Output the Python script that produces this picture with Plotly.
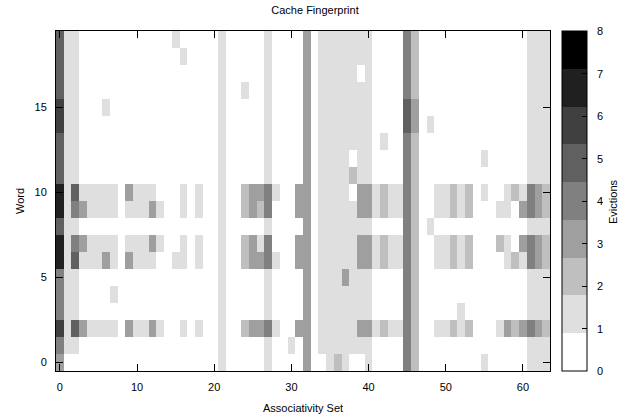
import plotly.graph_objects as go

# ---- data ----
sets = list(range(64))          # associativity set (x)
words = list(range(20))         # word (y)
x_ticks = [0, 10, 20, 30, 40, 50, 60]
y_ticks = [0, 5, 10, 15]
cbar_ticks = [0, 1, 2, 3, 4, 5, 6, 7, 8]

def row(pairs, default=0):
    r = [default] * 64
    for k, v in pairs.items():
        r[k] = v
    return r

# common vertical stripes present in (almost) every word
base = {1: 1, 2: 1, 21: 1, 27: 1, 32: 3, 34: 1, 35: 1, 36: 1, 37: 1, 38: 1,
        39: 1, 40: 1, 45: 4, 46: 2, 61: 1, 62: 1, 63: 1}

word_0 = row({0: 3, 21: 1, 27: 1, 32: 3, 35: 1, 36: 2, 37: 1, 40: 1, 45: 4, 46: 2,
              55: 1, 61: 1, 62: 1, 63: 1})
word_1 = row({**base, 0: 4, 30: 1})
word_2 = row({**base, 0: 6, 2: 5, 3: 3, 4: 1, 5: 1, 6: 1, 7: 1, 9: 3, 10: 1, 11: 1,
              12: 3, 13: 1, 16: 1, 18: 1, 24: 2, 25: 3, 26: 3, 27: 4, 28: 1, 31: 3,
              39: 3, 40: 3, 41: 1, 42: 2, 43: 1, 44: 1, 49: 1, 50: 1, 51: 2, 52: 1,
              53: 2, 57: 1, 58: 3, 59: 2, 60: 3, 61: 4, 62: 3, 63: 2})
word_3 = row({**base, 0: 4, 52: 1})
word_4 = row({**base, 0: 4, 7: 1})
word_5 = row({**base, 0: 4, 37: 3})
word_6 = row({**base, 0: 7, 2: 5, 3: 1, 4: 1, 5: 1, 6: 3, 7: 1, 9: 3, 10: 1, 11: 1,
              12: 1, 15: 1, 16: 1, 18: 1, 24: 2, 25: 3, 26: 3, 27: 4, 28: 1, 31: 3,
              39: 3, 40: 3, 41: 1, 42: 2, 43: 1, 44: 1, 49: 1, 50: 1, 51: 2, 52: 1,
              53: 2, 58: 1, 59: 2, 60: 1, 61: 4, 62: 3, 63: 2})
word_7 = row({**base, 0: 7, 2: 4, 3: 3, 4: 1, 5: 1, 6: 1, 7: 1, 9: 1, 10: 1, 11: 1,
              12: 3, 13: 1, 16: 1, 18: 1, 24: 2, 25: 3, 26: 1, 27: 4, 31: 3,
              39: 3, 40: 3, 41: 1, 42: 2, 43: 1, 44: 1, 49: 1, 50: 1, 51: 2, 52: 1,
              53: 2, 57: 2, 58: 1, 60: 3, 61: 4, 62: 3, 63: 2})
word_8 = row({**base, 0: 5, 48: 1})
word_9 = row({**base, 0: 7, 2: 4, 3: 3, 4: 1, 5: 1, 6: 1, 7: 1, 9: 1, 10: 1, 11: 1,
              12: 3, 13: 1, 16: 1, 18: 1, 24: 2, 25: 3, 26: 2, 27: 4, 31: 3,
              39: 3, 40: 3, 41: 1, 42: 2, 43: 1, 44: 1, 49: 1, 50: 1, 51: 2, 52: 1,
              53: 2, 57: 1, 58: 1, 60: 3, 61: 4, 62: 3, 63: 2})
word_10 = row({**base, 0: 7, 2: 5, 3: 1, 4: 1, 5: 1, 6: 1, 7: 1, 9: 3, 10: 1, 11: 1,
               12: 1, 16: 1, 18: 1, 24: 2, 25: 3, 26: 3, 27: 4, 28: 1, 31: 3, 38: 0,
               39: 3, 40: 3, 41: 1, 42: 2, 43: 1, 44: 1, 49: 1, 50: 1, 51: 2, 52: 1,
               53: 2, 55: 1, 58: 1, 59: 2, 60: 1, 61: 4, 62: 3, 63: 2})
word_11 = row({**base, 0: 5, 38: 2})
word_12 = row({**base, 0: 5, 38: 0, 55: 1})
word_13 = row({**base, 0: 5, 42: 1})
word_14 = row({**base, 0: 6, 45: 5, 46: 3, 48: 1})
word_15 = row({**base, 0: 6, 45: 5, 46: 3, 6: 1})
word_16 = row({**base, 0: 5, 24: 1})
word_17 = row({**base, 0: 5, 39: 0})
word_18 = row({**base, 0: 5, 16: 1})
word_19 = row({**base, 0: 5, 15: 1})

evictions = [word_0, word_1, word_2, word_3, word_4, word_5, word_6, word_7, word_8,
             word_9, word_10, word_11, word_12, word_13, word_14, word_15, word_16,
             word_17, word_18, word_19]

# ---- style ----
grays = ['#ffffff', '#dfdfdf', '#bfbfbf', '#9f9f9f', '#808080',
         '#606060', '#404040', '#202020', '#000000']
colorscale = []
n = len(grays)
for i, c in enumerate(grays):
    colorscale.append([i / n, c])
    colorscale.append([(i + 1) / n, c])

FONT = "Liberation Sans, Arial, sans-serif"
W, H = 630, 420
ML, MR, MT, MB = 56, 80, 31, 49
plot_w = W - ML - MR
plot_h = H - MT - MB
CB_X = (562 - ML) / plot_w


def px_x(px):
    return (px - ML) / plot_w


def px_y(py):
    return (H - MB - py) / plot_h


fig = go.Figure(go.Heatmap(
    x=sets, y=words, z=evictions,
    zmin=0, zmax=8, colorscale=colorscale, xgap=0, ygap=0,
    hoverinfo="skip",
    colorbar=dict(
        thickness=25, thicknessmode="pixels",
        len=1, lenmode="fraction", y=0.5, yanchor="middle",
        x=CB_X, xanchor="left", xpad=0, ypad=0,
        outlinecolor="black", outlinewidth=1,
        tickvals=cbar_ticks, ticks="inside", ticklen=5, tickcolor="black",
        showticklabels=False,
    ),
))

# mirrored ticks on the left edge of the colour box
for v in cbar_ticks[1:-1]:
    fig.add_shape(type="line", xref="paper", yref="paper",
                  x0=CB_X, x1=CB_X + 5 / plot_w, y0=v / 8, y1=v / 8,
                  line=dict(color="black", width=1))

tf = dict(family=FONT, size=11, color="black")
annotations = []
for v in cbar_ticks:
    annotations.append(dict(text=str(v), x=px_x(595), y=v / 8, xref="paper", yref="paper",
                            xanchor="left", yanchor="middle", showarrow=False, font=tf))
annotations.append(dict(text="Evictions", x=px_x(613), y=px_y(202), xref="paper", yref="paper",
                        textangle=-90, xanchor="center", yanchor="middle", showarrow=False, font=tf))
annotations.append(dict(text="Associativity Set", x=0.5, y=px_y(408), xref="paper", yref="paper",
                        xanchor="center", yanchor="middle", showarrow=False, font=tf))
annotations.append(dict(text="Word", x=px_x(20), y=px_y(201), xref="paper", yref="paper",
                        textangle=-90, xanchor="center", yanchor="middle", showarrow=False, font=tf))

axis_common = dict(
    showgrid=False, zeroline=False, showline=True, linecolor="black", linewidth=1,
    mirror="allticks", ticks="inside", ticklen=7, tickcolor="black",
    tickfont=tf, automargin=False,
)

fig.update_layout(
    width=W, height=H,
    margin=dict(l=ML, r=MR, t=MT, b=MB),
    paper_bgcolor="white", plot_bgcolor="white",
    title=dict(text="Cache Fingerprint", x=0.5, xanchor="center", y=1 - 10 / H, yanchor="middle",
               font=tf),
    xaxis=dict(range=[-0.5, 63.5], tickvals=x_ticks, ticklabelstandoff=6, **axis_common),
    yaxis=dict(range=[-0.5, 19.5], tickvals=y_ticks, ticklabelstandoff=6, **axis_common),
    annotations=annotations,
)

fig.write_html("out.html", config={"displayModeBar": False},
               post_script="document.body.style.margin='0';")
